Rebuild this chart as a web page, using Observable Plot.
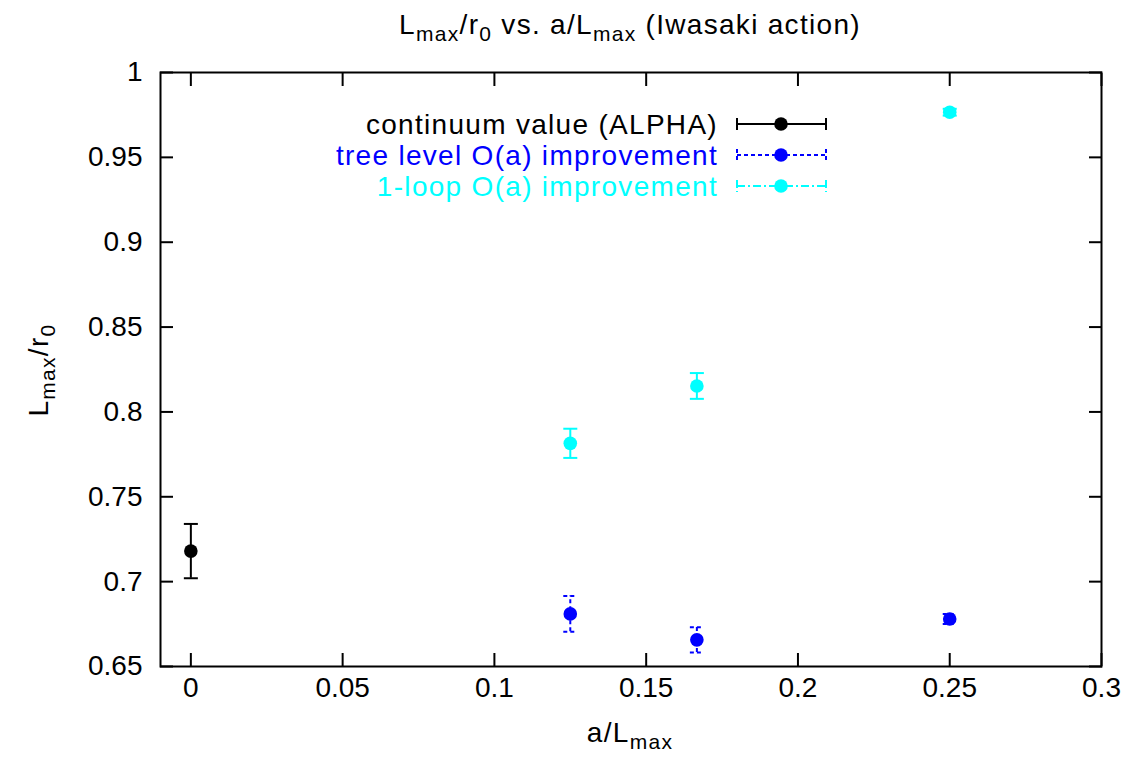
<!DOCTYPE html>
<html><head><meta charset="utf-8">
<script src="https://cdn.jsdelivr.net/npm/d3@7"></script>
<script src="https://cdn.jsdelivr.net/npm/@observablehq/plot@0.6"></script>
<style>body{margin:0;background:#fff;} svg{display:block;}</style>
</head><body><div id="chart"></div>
<script>
// ---- data ----
const seriesNames = ["continuum value (ALPHA)", "tree level O(a) improvement", "1-loop O(a) improvement"];
const seriesColors = ["#000000", "#0000ff", "#00ffff"];
const continuumX = [0];
const continuumY = [0.718];
const continuumErr = [0.016];
const treeX = [0.125, 0.1667, 0.25];
const treeY = [0.681, 0.6657, 0.678];
const treeErr = [0.0105, 0.0075, 0.003];
const loopX = [0.125, 0.1667, 0.25];
const loopY = [0.7815, 0.8153, 0.9766];
const loopErr = [0.0086, 0.0076, 0.002];
const xTicks = [0, 0.05, 0.1, 0.15, 0.2, 0.25, 0.3];
const yTicks = [0.65, 0.7, 0.75, 0.8, 0.85, 0.9, 0.95, 1];

const FONT = "'Liberation Sans', Arial, Helvetica, sans-serif";
const FS = 28;
const LS = "1.3px";

function rows(xs, ys, es, s) { return xs.map((x, i) => ({x, y: ys[i], e: es[i], s})); }
const data = [
  ...rows(continuumX, continuumY, continuumErr, 0),
  ...rows(treeX, treeY, treeErr, 1),
  ...rows(loopX, loopY, loopErr, 2)
];
const dash = [null, "4,3", null];
const cap = {draw(ctx) { ctx.moveTo(-7, 0); ctx.lineTo(7, 0); }};

const marks = [];
for (let s = 0; s < 3; s++) {
  const d = data.filter(r => r.s === s);
  marks.push(Plot.ruleX(d, {x: "x", y1: r => r.y - r.e, y2: r => r.y + r.e, stroke: seriesColors[s], strokeWidth: 2, strokeDasharray: dash[s]}));
  marks.push(Plot.dot(d, {x: "x", y: r => r.y + r.e, symbol: cap, stroke: seriesColors[s], strokeWidth: 2, strokeDasharray: dash[s], fill: "none"}));
  marks.push(Plot.dot(d, {x: "x", y: r => r.y - r.e, symbol: cap, stroke: seriesColors[s], strokeWidth: 2, strokeDasharray: dash[s], fill: "none"}));
  marks.push(Plot.dot(d, {x: "x", y: "y", r: 6.8, fill: seriesColors[s], stroke: "none"}));
}

const fmt = d => String(+d.toFixed(2));
const plot = Plot.plot({
  width: 1129, height: 766,
  marginLeft: 160, marginRight: 28, marginTop: 72, marginBottom: 100,
  style: {fontFamily: FONT, fontSize: FS + "px", color: "#000", background: "#fff", overflow: "visible"},
  x: {domain: [-0.01, 0.3]},
  y: {domain: [0.65, 1]},
  marks: [
    Plot.axisX(xTicks, {anchor: "bottom", tickSize: 0, tickPadding: 11, tickFormat: fmt, label: null, fontSize: FS}),
    Plot.axisY(yTicks, {anchor: "left", tickSize: 0, tickPadding: 18, tickFormat: fmt, label: null, fontSize: FS}),
    Plot.axisX(xTicks, {anchor: "bottom", tickSize: -13, text: null, label: null, strokeWidth: 2}),
    Plot.axisX(xTicks, {anchor: "top", tickSize: -13, text: null, label: null, strokeWidth: 2}),
    Plot.axisY(yTicks, {anchor: "left", tickSize: -13, text: null, label: null, strokeWidth: 2}),
    Plot.axisY(yTicks, {anchor: "right", tickSize: -13, text: null, label: null, strokeWidth: 2}),
    Plot.frame({stroke: "#000", strokeWidth: 2}),
    ...marks
  ]
});
document.getElementById("chart").appendChild(plot);

// ---- title, axis labels, legend ----
const svg = d3.select(plot);
function subText(g, parts, attrs) {
  const t = g.append("text").attr("font-family", FONT).attr("font-size", FS).attr("fill", "#000")
    .attr("letter-spacing", LS);
  for (const k in attrs) t.attr(k, attrs[k]);
  let shift = 0;
  for (const [str, sub] of parts) {
    const want = sub ? 7 : 0;
    t.append("tspan").attr("dy", want - shift).attr("font-size", sub ? 21 : FS).text(str);
    shift = want;
  }
  return t;
}
subText(svg, [["L", 0], ["max", 1], ["/r", 0], ["0", 1], [" vs. a/L", 0], ["max", 1], [" (Iwasaki action)", 0]],
  {x: 630, y: 34, "text-anchor": "middle"});
subText(svg, [["a/L", 0], ["max", 1]], {x: 630, y: 742, "text-anchor": "middle"});
subText(svg, [["L", 0], ["max", 1], ["/r", 0], ["0", 1]],
  {transform: "translate(48,370) rotate(-90)", "text-anchor": "middle"});

const legY = [124, 155, 186];
const legDash = [null, "4,3", "8,3,2,3"];
const leg = svg.append("g");
for (let s = 0; s < 3; s++) {
  const y = legY[s];
  leg.append("text").attr("x", 718).attr("y", y + 10).attr("text-anchor", "end")
    .attr("font-family", FONT).attr("font-size", FS).attr("letter-spacing", LS)
    .attr("fill", seriesColors[s]).text(seriesNames[s]);
  const g = leg.append("g").attr("stroke", seriesColors[s]).attr("stroke-width", 2).attr("stroke-dasharray", legDash[s]);
  g.append("line").attr("x1", 737).attr("x2", 826).attr("y1", y).attr("y2", y);
  g.append("line").attr("x1", 737).attr("x2", 737).attr("y1", y - 6).attr("y2", y + 6);
  g.append("line").attr("x1", 826).attr("x2", 826).attr("y1", y - 6).attr("y2", y + 6);
  leg.append("circle").attr("cx", 781).attr("cy", y).attr("r", 6.8).attr("fill", seriesColors[s]);
}
</script>
</body></html>
